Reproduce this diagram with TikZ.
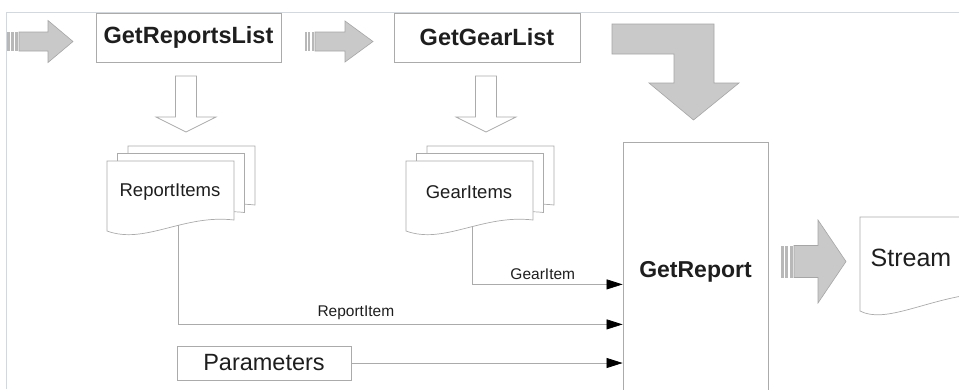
\documentclass[tikz,border=0pt]{standalone}
\usepackage{fontspec}
\setmainfont{Liberation Sans}
\usetikzlibrary{arrows.meta,positioning,calc}

\definecolor{boxline}{HTML}{ABABAB}
\definecolor{arrowgray}{HTML}{C9C9C9}
\definecolor{arrowedge}{HTML}{A6A6A6}
\definecolor{framegray}{HTML}{D3D8DF}
\definecolor{textgray}{HTML}{1E1E1E}

\tikzset{
  procbox/.style={draw=boxline, line width=0.8pt, inner sep=0pt, text=textgray,
    font=\bfseries\fontsize{23.5}{26}\selectfont},
  plainbox/.style={draw=boxline, line width=0.8pt, inner sep=0pt, text=textgray,
    font=\fontsize{23.5}{26}\selectfont},
  doctext/.style={text=textgray, font=\fontsize{18.5}{22}\selectfont},
  docline/.style={draw=boxline, line width=0.7pt, fill=white},
  link/.style={draw=boxline, line width=0.7pt,
    -{Triangle[length=16pt,width=10pt,color=black]}},
  flowlabel/.style={above, yshift=1pt, text=textgray, font=\fontsize{15.5}{17}\selectfont},
  blockarrow/.style={fill=arrowgray, draw=arrowedge, line width=0.6pt},
  hollowarrow/.style={fill=white, draw=boxline, line width=0.7pt}
}

% striped block arrow: tail x, body x, head x, tip x, centre y, body half, head half
\newcommand{\bararrow}[7]{
  \foreach \i in {0,1,2}
    \fill[arrowedge!80] ({#1+\i*(#2-#1)/3},{#5-#6}) rectangle ++({(#2-#1)/3-1.3},{2*#6});
  \filldraw[blockarrow] (#2,{#5-#6}) -- (#3,{#5-#6}) -- (#3,{#5-#7}) -- (#4,#5)
    -- (#3,{#5+#7}) -- (#3,{#5+#6}) -- (#2,{#5+#6}) -- cycle;
}
% open arrow pointing down, centred at x
\newcommand{\hollowdown}[1]{
  \filldraw[hollowarrow] ({#1-10.5},76) -- ({#1+10.5},76) -- ({#1+10.5},117)
    -- ({#1+30},117) -- (#1,132) -- ({#1-30},117) -- ({#1-10.5},117) -- cycle;
}
% document page with wavy bottom: left x, top y, width, height
\newcommand{\docpage}[4]{
  \filldraw[docline] (#1,#2) -- ({#1+#3},#2) -- ({#1+#3},{#2+#4-11})
    .. controls ({#1+0.6*#3},{#2+#4-17}) and ({#1+0.3*#3},{#2+#4+14}) .. (#1,{#2+#4}) -- cycle;
}

\begin{document}
\begin{tikzpicture}[x=1pt, y=-1pt]
  \clip (0,0) rectangle (959,389);
  \fill[white] (0,0) rectangle (959,389);
  \draw[framegray, line width=0.8pt] (6,389) -- (6,12) -- (959,12);

  % top row
  \bararrow{7}{19}{48}{73}{41.5}{9.5}{21}
  \node[procbox, minimum width=185pt, minimum height=49pt] (reportslist) at (188.5,37.5) {GetReportsList};
  \bararrow{305}{315}{345}{373}{41.5}{9.5}{20.5}
  \node[procbox, minimum width=186pt, minimum height=49pt] (gearlist) at (487,37.5) {GetGearList};
  \filldraw[blockarrow] (612,24) -- (714,24) -- (714,83) -- (739,83) -- (693.5,120)
    -- (649,83) -- (674,83) -- (674,54) -- (612,54) -- cycle;

  \hollowdown{186}
  \hollowdown{486}

  % item stacks
  \docpage{128}{146}{127}{70}
  \docpage{117.5}{153.5}{127}{70}
  \docpage{107}{161}{127}{70}
  \node[doctext] (reportitems) at (170,192) {ReportItems};
  \coordinate (ri-out) at (178,225);

  \docpage{427}{146}{127}{70}
  \docpage{416.5}{153.5}{127}{70}
  \docpage{406}{161}{127}{70}
  \node[doctext] (gearitems) at (469,192) {GearItems};
  \coordinate (gi-out) at (472,226);

  % main process
  \node[procbox, font=\bfseries\fontsize{23}{26}\selectfont, anchor=north,
    minimum width=145pt, minimum height=258pt] (getreport) at (695.5,142) {GetReport};

  \node[plainbox, minimum width=174pt, minimum height=34pt] (params) at (264,363) {Parameters};

  \draw[link] (gi-out) |- node[flowlabel, pos=0.735] {GearItem} ([yshift=-13pt]getreport.west);
  \draw[link] (ri-out) |- node[flowlabel, pos=0.70] {ReportItem} ([yshift=-53pt]getreport.west);
  \draw[link] (params.east) -- (params.east -| getreport.west);

  % output
  \bararrow{781}{794}{818}{846}{261.5}{16}{41.5}
  \filldraw[docline] (860,217) -- (975,217) -- (975,294)
    .. controls (925,300) and (885,324) .. (860,311) -- cycle;
  \node[text=textgray, font=\fontsize{25}{28}\selectfont] (stream) at (911,258) {Stream};
\end{tikzpicture}
\end{document}
